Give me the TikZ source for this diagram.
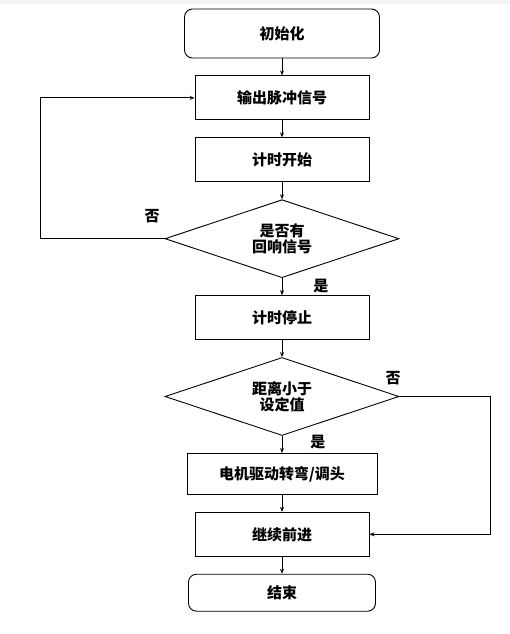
\documentclass[tikz,border=0pt]{standalone}
\usepackage{fontspec}
\setmainfont{Noto Sans CJK SC}
\usetikzlibrary{positioning,shapes.geometric,arrows.meta}
\begin{document}
\begin{tikzpicture}[node distance=17pt, line width=0.9pt,
    every node/.style={font=\fontsize{15}{16}\selectfont\bfseries},
    term/.style={draw, rounded corners=8pt, minimum width=195pt, minimum height=49pt},
    proc/.style={draw, minimum width=174pt, minimum height=44pt},
    cond/.style={draw, diamond, aspect=3, inner sep=0pt, minimum width=234pt,
        minimum height=78pt, align=center},
    tag/.style={inner sep=1pt},
    arr/.style={-{Stealth[length=5pt,width=4pt]}}]
    \fill[black!5] (0,0) rectangle (509pt,-4pt);
    \useasboundingbox (0,0) rectangle (509pt,-634pt);
    \node[term] (init) at (282pt,-33.5pt) {初始化};
    \node[proc, below=of init] (pulse) {输出脉冲信号};
    \node[proc, below=of pulse] (tstart) {计时开始};
    \node[cond, below=of tstart] (echo) {是否有\\回响信号};
    \node[proc, below=of echo] (tstop) {计时停止};
    \node[cond, below=of tstop] (dist) {距离小于\\设定值};
    \node[proc, below=of dist, minimum width=190pt, minimum height=41pt] (turn) {电机驱动转弯/调头};
    \node[proc, below=of turn] (go) {继续前进};
    \node[term, below=of go, minimum width=187pt, minimum height=37pt] (stop) {结束};
    \node[tag, above left=14.5pt and 3.5pt of echo.west] (echono) {否};
    \node[tag, below right=0pt and 30pt of echo.south] (echoyes) {是};
    \node[tag, above left=10.5pt and -2.5pt of dist.east] (distno) {否};
    \node[tag, below right=-2pt and 27pt of dist.south] (distyes) {是};
    \draw[arr] (init) -- (pulse);
    \draw[arr] (pulse) -- (tstart);
    \draw[arr] (tstart) -- (echo);
    \draw[arr] (echo) -- (tstop);
    \draw[arr] (tstop) -- (dist);
    \draw[arr] (dist) -- (turn);
    \draw[arr] (turn) -- (go);
    \draw[arr] (go) -- (stop);
    \draw[arr] (echo.west) -- ++(-124pt,0) |- (pulse.west);
    \draw[arr] (dist.east) -- ++(91pt,0) |- (go.east);
\end{tikzpicture}
\end{document}
